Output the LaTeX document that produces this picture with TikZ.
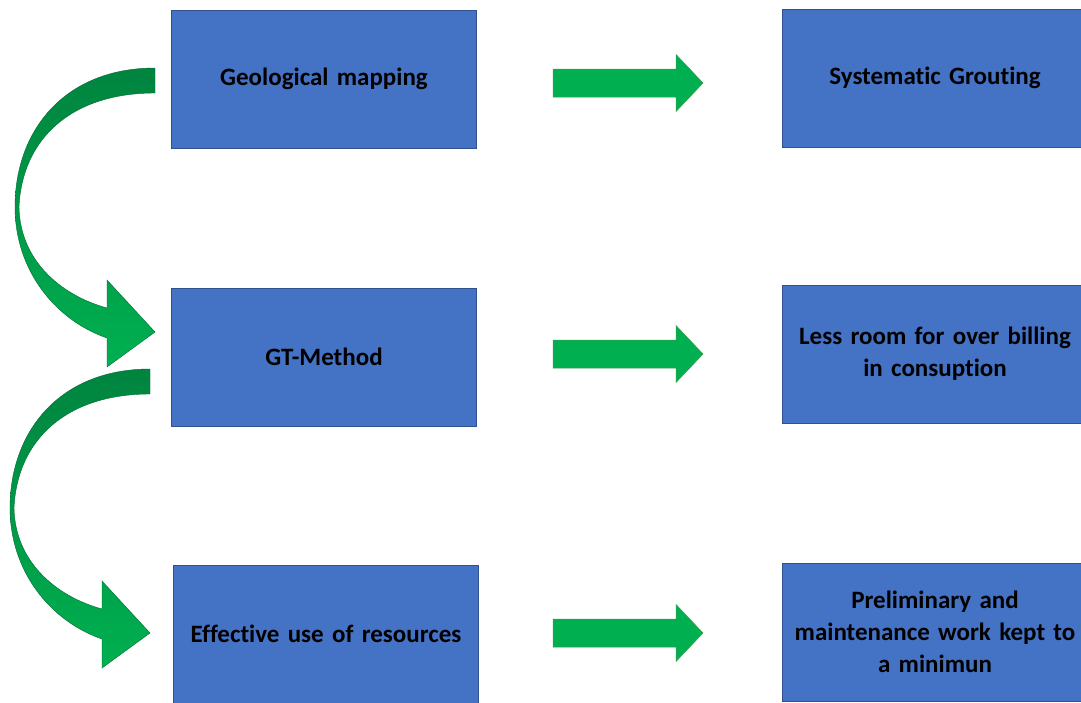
\documentclass[tikz,border=0pt]{standalone}
\usepackage{fontspec}
\setmainfont[Ligatures=NoCommon]{Carlito}
\usetikzlibrary{calc}

\definecolor{boxblue}{HTML}{4472C4}
\definecolor{boxline}{HTML}{2F528F}
\definecolor{arrowgreen}{HTML}{00B050}
\definecolor{arrowline}{HTML}{3C9A4E}
\definecolor{darkgreen}{HTML}{00843F}

\tikzset{
  stepbox/.style={rectangle, draw=boxline, line width=0.8pt, fill=boxblue,
    minimum width=305pt, minimum height=138pt, inner sep=0pt,
    text width=295pt, align=center,
    font=\fontsize{25}{32}\selectfont\bfseries},
  blockarrow/.style={fill=arrowgreen, draw=arrowline, line width=0.5pt},
  bendarrow/.style={top color=darkgreen, bottom color=arrowgreen, draw=darkgreen!80!black, line width=0.4pt}
}

\begin{document}
\begin{tikzpicture}[x=1pt, y=-1pt]
			\useasboundingbox (0,0) rectangle (1081,702);
			\clip (0,0) rectangle (1081,702);
			
			% Left column of boxes
			\node[stepbox] (l1) at (324,79) {Geological mapping};
			\node[stepbox] (l2) at (324,357) {GT-Method};
			\node[stepbox] (l3) at (326,634) {Effective use of resources};
			
			% Right column of boxes
			\node[stepbox] (r1) at (935,78) {Systematic Grouting};
			\node[stepbox] (r2) at (935,354) {Less room for over billing\\in consuption};
			\node[stepbox] (r3) at (935,632) {Preliminary and\\maintenance work kept to\\a minimun};
			
			% Centres of the straight arrows
			\coordinate (a1) at (628,83);
			\coordinate (a2) at (628,354);
			\coordinate (a3) at (628,633);
			
			% Draw the straight block arrows
			\foreach \c in {a1,a2,a3} {
				\draw[blockarrow] ($(\c)+(-75,-14)$) -- ++(123,0) -- ++(0,-14.5) -- ++(27,28.5)
					-- ++(-27,28.5) -- ++(0,-14.5) -- ++(-123,0) -- cycle;
			}
			
			% Draw the curved arrows on the left
			\foreach \dx/\dy in {0/0, -5/301} {
				\shade[bendarrow, shift={(\dx,\dy)}] (155,68)
					.. controls (65,68) and (15,130) .. (15,207)
					.. controls (15,270) and (55,320) .. (107,338)
					-- (107,367) -- (155,332) -- (107,280) -- (107,308)
					.. controls (60,295) and (20,260) .. (19,207)
					.. controls (22,140) and (70,93) .. (155,93) -- cycle;
			}
		\end{tikzpicture}
\end{document}
